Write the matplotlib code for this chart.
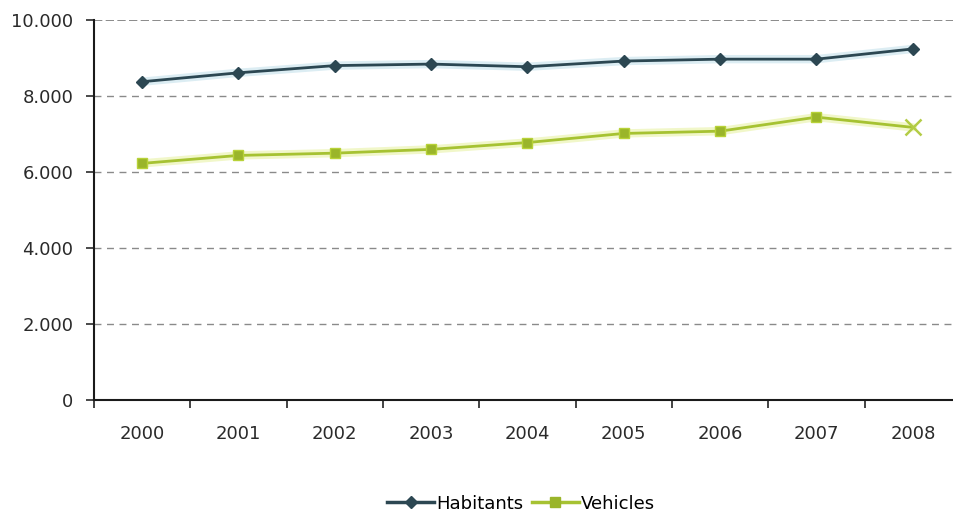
import matplotlib
matplotlib.use("Agg")
import matplotlib.pyplot as plt
from matplotlib.ticker import FuncFormatter, FixedLocator
from matplotlib.lines import Line2D

years = ["2000", "2001", "2002", "2003", "2004", "2005", "2006", "2007", "2008"]
habitants = [8385, 8620, 8810, 8850, 8780, 8930, 8980, 8980, 9250]
vehicles = [6230, 6440, 6500, 6600, 6780, 7020, 7080, 7450, 7180]
y_ticks = [0, 2000, 4000, 6000, 8000, 10000]

hab_color = "#2c4752"
veh_color = "#a6c232"

plt.rcParams["font.family"] = ["DejaVu Sans"]

fig = plt.figure(figsize=(9.54, 5.11), dpi=100)
ax = fig.add_axes([94 / 954, 111.5 / 511, 867 / 954, 379 / 511])

x = list(range(len(years)))

# horizontal dashed gridlines
for v in y_ticks[1:]:
    if v == y_ticks[-1]:
        ax.axhline(v, color="#777777", lw=1.2, ls=(0, (5, 2)), zorder=1)
    else:
        ax.axhline(v, color="#8a8a8a", lw=1.0, ls=(0, (5, 4)), zorder=1)

# soft halo under each line
ax.plot(x, habitants, color="#dcedf3", lw=6, zorder=2, solid_capstyle="round")
ax.plot(x, vehicles, color="#f1f7c9", lw=6, zorder=2, solid_capstyle="round")

ax.plot(x, habitants, color=hab_color, lw=2.0, marker="D", ms=6.5,
        markerfacecolor=hab_color, markeredgecolor=hab_color, zorder=4)
ax.plot(x, vehicles, color=veh_color, lw=2.0, zorder=3)
ax.plot(x[:-1], vehicles[:-1], ls="none", marker="s", ms=6.5,
        markerfacecolor="#9ab52a", markeredgecolor="#b8d238", zorder=4)
ax.plot(x[-1:], vehicles[-1:], ls="none", marker="x", ms=11, mew=1.8,
        color="#b3cc45", zorder=4)

ax.set_xlim(-0.5, len(years) - 0.5)
ax.set_ylim(0, 10000)

ax.set_yticks(y_ticks)
ax.yaxis.set_major_formatter(FuncFormatter(lambda v, p: f"{int(v):,}".replace(",", ".")))
ax.tick_params(axis="y", direction="out", length=6, width=1.2, pad=9,
               labelsize=13, colors="#2a2a2a")

ax.set_xticks(x)
ax.set_xticklabels(years)
ax.xaxis.set_minor_locator(FixedLocator([i - 0.5 for i in range(len(years) + 1)]))
ax.tick_params(axis="x", which="major", length=0, pad=18, labelsize=13,
               colors="#2a2a2a")
ax.tick_params(axis="x", which="minor", direction="out", length=6, width=1.2,
               color="#222222")

for s in ["top", "right"]:
    ax.spines[s].set_visible(False)
for s in ["left", "bottom"]:
    ax.spines[s].set_linewidth(1.5)
    ax.spines[s].set_color("#1a1a1a")
    ax.spines[s].set_zorder(5)

handles = [
    Line2D([], [], color=hab_color, lw=2.5, marker="D", ms=6.5, label="Habitants"),
    Line2D([], [], color=veh_color, lw=2.5, marker="s", ms=6.5,
           markerfacecolor="#9ab52a", markeredgecolor="#9ab52a", label="Vehicles"),
]
fig.legend(handles=handles, loc="lower center", bbox_to_anchor=(521 / 954, -0.035),
           ncol=2, frameon=False, fontsize=13, handlelength=2.6,
           handletextpad=0.1, columnspacing=0.5)

fig.savefig("out.png", dpi=100, facecolor="white")
